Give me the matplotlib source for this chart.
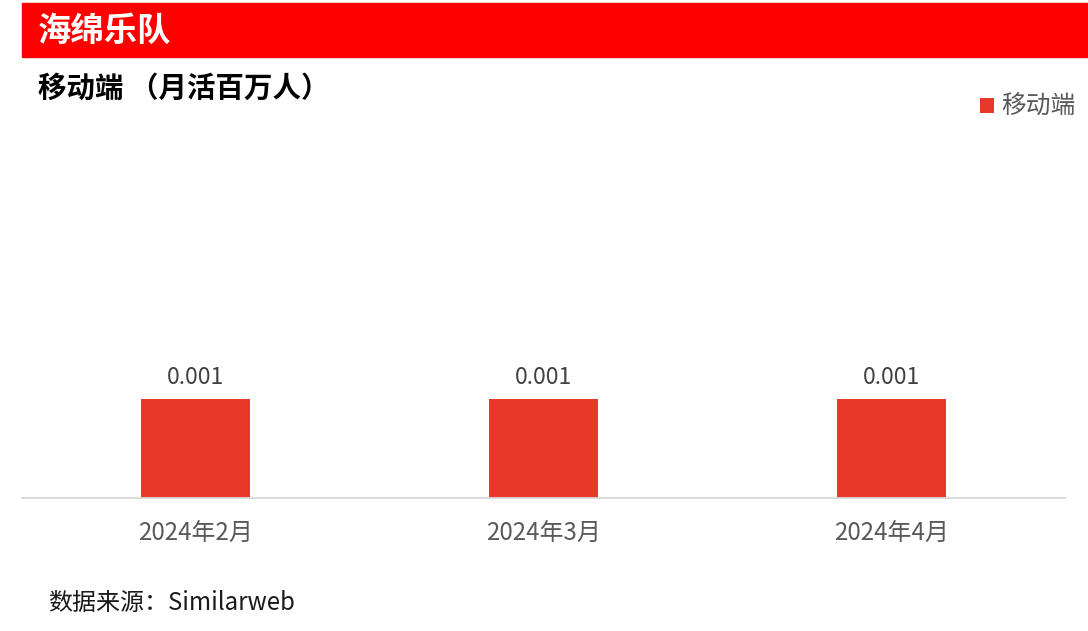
import matplotlib
matplotlib.use("Agg")
import matplotlib.pyplot as plt
from matplotlib.patches import Rectangle

plt.rcParams['font.family'] = ['Noto Sans CJK SC', 'DejaVu Sans']

categories = ["2024年2月", "2024年3月", "2024年4月"]
values = [0.001, 0.001, 0.001]
value_labels = ["0.001", "0.001", "0.001"]
series_name = "移动端"
title = "海绵乐队"
subtitle = "移动端 （月活百万人）"
source = "数据来源：Similarweb"

W, H = 1088, 631
fig = plt.figure(figsize=(W / 100, H / 100), dpi=100)

# Red banner
fig.patches.append(Rectangle((22 / W, 1 - 57 / H), (W - 22) / W, 54 / H,
                             transform=fig.transFigure, color="#FF0000", zorder=0))
fig.text(38 / W, 1 - 31 / H, title, color="white", fontsize=24, fontweight="bold",
         va="center", ha="left")
fig.text(38 / W, 1 - 89 / H, subtitle, color="black", fontsize=20.5, fontweight="bold",
         va="center", ha="left")

# Axes
ax_left, ax_right = 22, 1065
ax_top, ax_bottom = 130, 498
ax = fig.add_axes([ax_left / W, 1 - ax_bottom / H, (ax_right - ax_left) / W, (ax_bottom - ax_top) / H])
x = list(range(len(categories)))
bars = ax.bar(x, values, width=0.313, color="#E8382A", label=series_name, zorder=2)
ax.set_xlim(-0.5, len(categories) - 0.5)
ax.set_ylim(0, 0.001 * (ax_bottom - ax_top) / 99)
for xi, v, lab in zip(x, values, value_labels):
    ax.annotate(lab, (xi, v), xytext=(0, 7.5), textcoords="offset points",
                ha="center", va="bottom", fontsize=16.5, color="#404040")
for s in ["top", "right", "left"]:
    ax.spines[s].set_visible(False)
ax.spines["bottom"].set_color("#D9D9D9")
ax.spines["bottom"].set_linewidth(1.3)
ax.set_yticks([])
ax.set_xticks(x)
ax.set_xticklabels(categories, fontsize=17.3, color="#595959")
ax.tick_params(axis="x", length=0, pad=16)

leg = fig.legend(handles=[bars], labels=[series_name], loc="center left",
                 bbox_to_anchor=(958 / W, 1 - 107 / H), frameon=False, fontsize=17.8,
                 handlelength=0.55, handleheight=0.55, handletextpad=0.3)
for t in leg.get_texts():
    t.set_color("#595959")

fig.text(48 / W, 1 - 603 / H, source, color="#1a1a1a", fontsize=17.3, va="center", ha="left")

fig.savefig("out.png", dpi=100)
